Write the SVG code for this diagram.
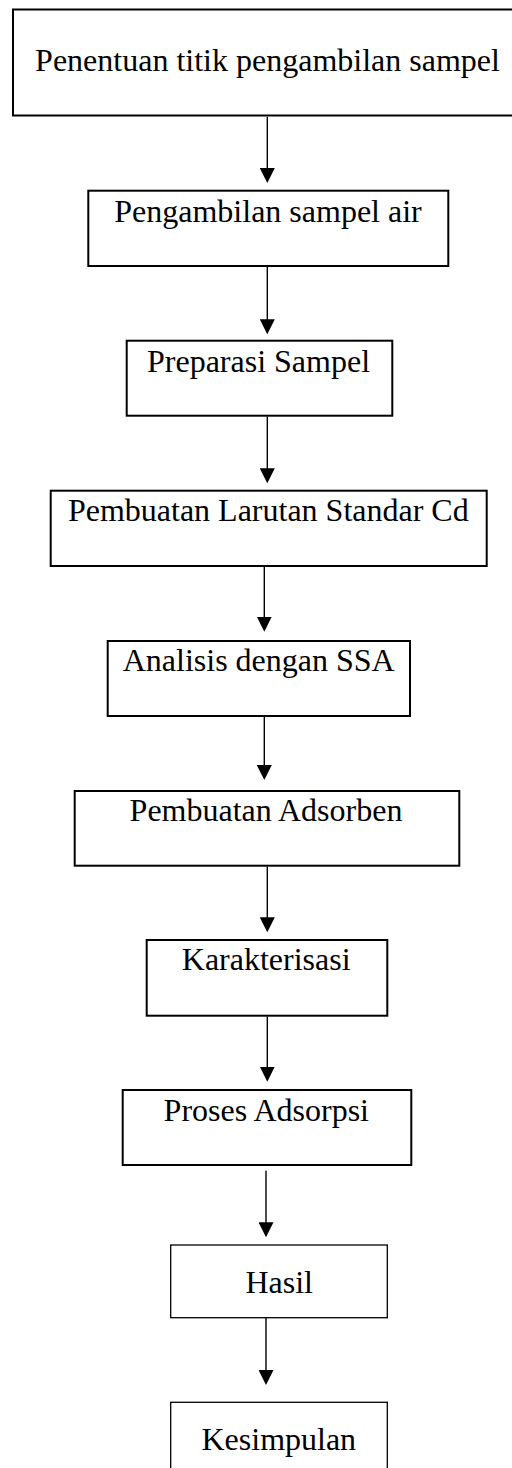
<svg xmlns="http://www.w3.org/2000/svg" width="512" height="1468" viewBox="0 0 512 1468">
  <style>
    .box { fill: #ffffff; stroke: #000000; stroke-width: 2; }
    .thin { stroke-width: 1.3; }
    .lbl { font-family: "Liberation Serif", "Times New Roman", serif; font-size: 32px; fill: #000000; text-anchor: middle; }
    .conn { stroke: #000000; stroke-width: 1.4; fill: none; marker-end: url(#arrow); }
  </style>
  <defs>
    <marker id="arrow" viewBox="0 0 15 15" markerUnits="userSpaceOnUse" markerWidth="15" markerHeight="15" refX="12" refY="7.5" orient="auto">
      <path d="M0,0 L15,7.5 L0,15 Z" fill="#000000"/>
    </marker>
  </defs>
  <rect width="512" height="1468" fill="#ffffff"/>

  <g id="connectors">
    <line class="conn" x1="267.3" y1="116.7" x2="267.3" y2="180"/>
    <line class="conn" x1="267.3" y1="267" x2="267.3" y2="331.3"/>
    <line class="conn" x1="267.3" y1="416.5" x2="267.3" y2="480.3"/>
    <line class="conn" x1="264.3" y1="566.5" x2="264.3" y2="628.7"/>
    <line class="conn" x1="264.3" y1="713.3" x2="264.3" y2="777"/>
    <line class="conn" x1="267.3" y1="866.5" x2="267.3" y2="929.3"/>
    <line class="conn" x1="267.3" y1="1016.5" x2="267.3" y2="1078.7"/>
    <line class="conn" x1="266" y1="1170.7" x2="266" y2="1234.3"/>
    <line class="conn" x1="266" y1="1318" x2="266" y2="1382"/>
  </g>

  <g id="n1">
    <rect class="box" x="13" y="9.5" width="520" height="106"/>
    <text class="lbl" x="267.5" y="71">Penentuan titik pengambilan sampel</text>
  </g>
  <g id="n2">
    <rect class="box" x="88.3" y="190.7" width="360" height="75.3"/>
    <text class="lbl" x="268" y="222">Pengambilan sampel air</text>
  </g>
  <g id="n3">
    <rect class="box" x="126.7" y="340.7" width="265.6" height="75"/>
    <text class="lbl" x="258.5" y="372">Preparasi Sampel</text>
  </g>
  <g id="n4">
    <rect class="box" x="50.7" y="490.7" width="436" height="75.3"/>
    <text class="lbl" x="268.3" y="521">Pembuatan Larutan Standar Cd</text>
  </g>
  <g id="n5">
    <rect class="box" x="107.7" y="641" width="302.3" height="75"/>
    <text class="lbl" x="258.7" y="671">Analisis dengan SSA</text>
  </g>
  <g id="n6">
    <rect class="box" x="74.7" y="791" width="384.6" height="74.7"/>
    <text class="lbl" x="266" y="821">Pembuatan Adsorben</text>
  </g>
  <g id="n7">
    <rect class="box" x="146.7" y="940" width="240.6" height="75.7"/>
    <text class="lbl" x="266.2" y="970">Karakterisasi</text>
  </g>
  <g id="n8">
    <rect class="box" x="122.7" y="1090" width="288.6" height="75"/>
    <text class="lbl" x="266.3" y="1121">Proses Adsorpsi</text>
  </g>
  <g id="n9">
    <rect class="box thin" x="170.7" y="1245" width="216.6" height="72.7"/>
    <text class="lbl" x="279.2" y="1293">Hasil</text>
  </g>
  <g id="n10">
    <rect class="box thin" x="170.7" y="1402.3" width="216.6" height="100"/>
    <text class="lbl" x="278.8" y="1450">Kesimpulan</text>
  </g>
</svg>
